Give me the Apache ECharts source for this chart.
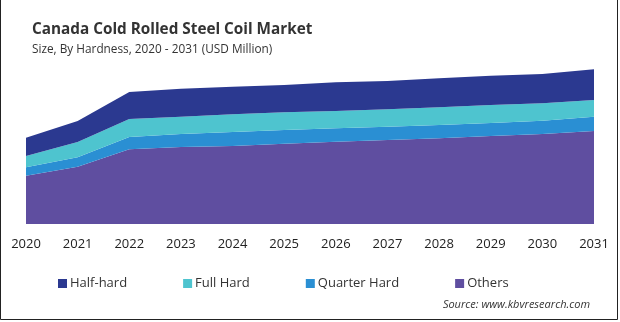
<!DOCTYPE html>
<html>
<head>
<meta charset="utf-8">
<script src="https://cdn.jsdelivr.net/npm/echarts@6/dist/echarts.min.js"></script>
<style>
  html, body { margin: 0; padding: 0; background: #fff; }
  #chart { width: 620px; height: 322px; }
</style>
</head>
<body>
<div id="chart"></div>
<script>
// Years on the category axis
var years = ['2020', '2021', '2022', '2023', '2024', '2025', '2026', '2027', '2028', '2029', '2030', '2031'];

// Market size by hardness (USD Million), stacked bottom to top
var others      = [48.3, 57.3, 74.7, 77.0, 78.0, 80.3, 82.3, 84.0, 85.7, 88.0, 90.0, 93.0];
var quarterHard = [8.4, 9.4, 12.3, 13.0, 14.0, 13.7, 13.4, 13.3, 13.3, 13.0, 13.3, 14.3];
var fullHard    = [11.3, 15.3, 18.0, 17.3, 17.7, 17.7, 17.3, 17.4, 17.7, 18.0, 17.4, 16.7];
var halfHard    = [18.3, 21.0, 27.0, 28.0, 27.6, 27.3, 28.7, 28.3, 29.0, 29.3, 29.3, 30.7];

var seriesNames = ['Half-hard', 'Full Hard', 'Quarter Hard', 'Others'];
var seriesColors = {
  'Half-hard': '#2B3990',
  'Full Hard': '#4EC4CF',
  'Quarter Hard': '#2A8FD3',
  'Others': '#5F4EA0'
};

var font = "'Open Sans', 'Noto Sans', sans-serif";

function areaSeries(name, data) {
  return {
    name: name,
    type: 'line',
    stack: 'total',
    data: data,
    symbol: 'none',
    smooth: false,
    lineStyle: { width: 0 },
    itemStyle: { color: seriesColors[name] },
    areaStyle: { color: seriesColors[name], opacity: 1 }
  };
}

var chart = echarts.init(document.getElementById('chart'), null, { renderer: 'canvas' });

chart.setOption({
  animation: false,
  backgroundColor: '#ffffff',
  title: [
    {
      text: 'Canada Cold Rolled Steel Coil Market',
      left: 27, top: 17,
      textStyle: { fontFamily: font, fontSize: 15.3, fontWeight: 'bold', color: '#333333' }
    },
    {
      text: 'Size, By Hardness, 2020 - 2031 (USD Million)',
      left: 27, top: 39,
      textStyle: { fontFamily: font, fontSize: 11.8, fontWeight: 'normal', color: '#333333' }
    }
  ],
  legend: {
    data: seriesNames,
    left: 53, top: 272,
    itemWidth: 9, itemHeight: 9, itemGap: 56,
    icon: 'rect',
    textStyle: { fontFamily: font, fontSize: 13, color: '#333333', padding: [0, 0, 0, -2] }
  },
  grid: { left: 26, right: 26, top: 64, bottom: 98 },
  xAxis: {
    type: 'category',
    data: years,
    boundaryGap: false,
    axisLine: { show: false },
    axisTick: { show: false },
    axisLabel: { fontFamily: font, fontSize: 13, color: '#222222', margin: 14 }
  },
  yAxis: {
    type: 'value',
    min: 0, max: 160,
    show: false,
    splitLine: { show: false }
  },
  series: [
    areaSeries('Others', others),
    areaSeries('Quarter Hard', quarterHard),
    areaSeries('Full Hard', fullHard),
    areaSeries('Half-hard', halfHard)
  ],
  graphic: [
    {
      type: 'text',
      right: 30, top: 299,
      style: {
        text: 'Source: www.kbvresearch.com',
        font: "italic 11px 'Open Sans', 'Noto Sans', sans-serif",
        fill: '#333333'
      }
    },
    {
      type: 'polyline',
      shape: { points: [[0.5, 0], [0.5, 319.5], [617.5, 319.5], [617.5, 0]] },
      style: { stroke: '#222222', lineWidth: 1, fill: null }
    }
  ]
});
</script>
</body>
</html>
